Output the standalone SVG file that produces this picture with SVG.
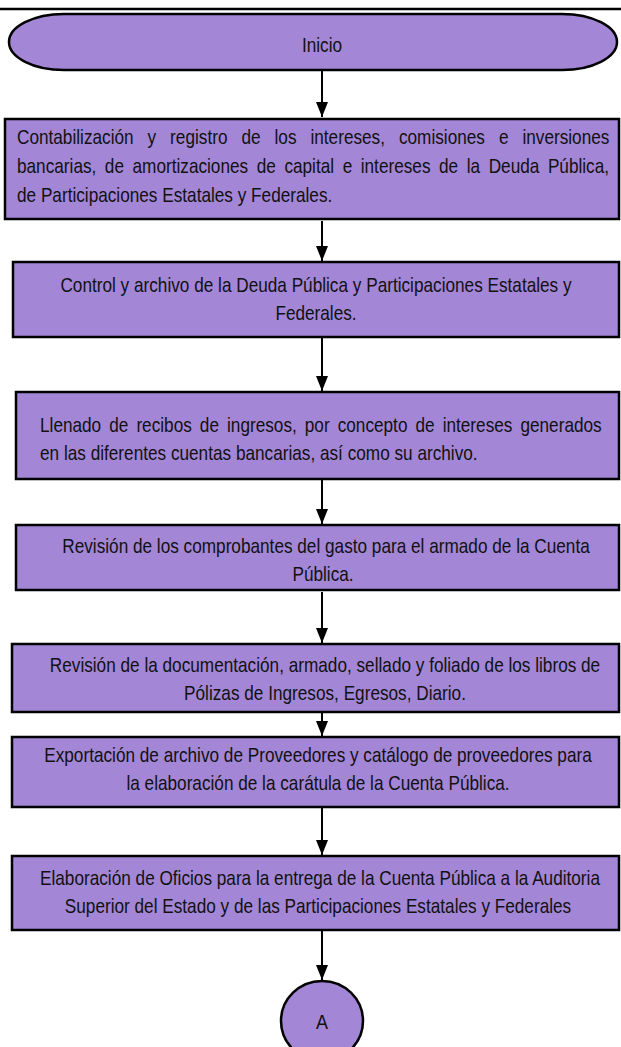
<svg xmlns="http://www.w3.org/2000/svg" width="621" height="1047" viewBox="0 0 621 1047">
<defs>
<marker id="ah" markerWidth="15" markerHeight="12" refX="15" refY="6" orient="auto" markerUnits="userSpaceOnUse" viewBox="0 0 15 12">
<path d="M0,0 L15,6 L0,12 Z" fill="#000"/>
</marker>
</defs>
<style>
.box{fill:#A386D6;stroke:#000;stroke-width:2.5}
.t{font-family:"Liberation Sans",Arial,sans-serif;font-size:20px;fill:#111}
.c{text-anchor:middle}
.conn line{stroke:#000;stroke-width:2;marker-end:url(#ah)}
</style>
<rect width="621" height="1047" fill="#fff"/>
<line x1="0" y1="9" x2="621" y2="9" stroke="#000" stroke-width="2.5"/>
<g id="inicio">
<rect class="box" x="9" y="14" width="608" height="56" rx="55" ry="28"/>
<text class="t c" transform="translate(322,52) scale(0.86,1)">Inicio</text>
</g>
<g id="n1">
<rect class="box" x="5" y="119" width="614" height="100"/>
<text class="t" transform="translate(17,144) scale(0.86,1)" word-spacing="10.7">Contabilización y registro de los intereses, comisiones e inversiones</text>
<text class="t" transform="translate(17,173) scale(0.86,1)" word-spacing="4.4">bancarias, de amortizaciones de capital e intereses de la Deuda Pública,</text>
<text class="t" transform="translate(17,202) scale(0.86,1)">de Participaciones Estatales y Federales.</text>
</g>
<g id="n2">
<rect class="box" x="13" y="262" width="606" height="75"/>
<text class="t c" transform="translate(316,292) scale(0.86,1)">Control y archivo de la Deuda Pública y Participaciones Estatales y</text>
<text class="t c" transform="translate(316,320) scale(0.86,1)">Federales.</text>
</g>
<g id="n3">
<rect class="box" x="16" y="392" width="603" height="87"/>
<text class="t" transform="translate(40,432) scale(0.86,1)" word-spacing="3.8">Llenado de recibos de ingresos, por concepto de intereses generados</text>
<text class="t" transform="translate(40,460) scale(0.86,1)">en las diferentes cuentas bancarias, así como su archivo.</text>
</g>
<g id="n4">
<rect class="box" x="16" y="525" width="603" height="65"/>
<text class="t c" transform="translate(326,553) scale(0.86,1)">Revisión de los comprobantes del gasto para el armado de la Cuenta</text>
<text class="t c" transform="translate(323,581) scale(0.86,1)">Pública.</text>
</g>
<g id="n5">
<rect class="box" x="12" y="644" width="607" height="68"/>
<text class="t c" transform="translate(325,672) scale(0.86,1)">Revisión de la documentación, armado, sellado y foliado de los libros de</text>
<text class="t c" transform="translate(325,700) scale(0.86,1)">Pólizas de Ingresos, Egresos, Diario.</text>
</g>
<g id="n6">
<rect class="box" x="12" y="737" width="607" height="70"/>
<text class="t c" transform="translate(318,762) scale(0.86,1)">Exportación de archivo de Proveedores y catálogo de proveedores para</text>
<text class="t c" transform="translate(318,790) scale(0.86,1)">la elaboración de la carátula de la Cuenta Pública.</text>
</g>
<g id="n7">
<rect class="box" x="12" y="856" width="607" height="74"/>
<text class="t c" transform="translate(320,885) scale(0.86,1)">Elaboración de Oficios para la entrega de la Cuenta Pública a la Auditoria</text>
<text class="t c" transform="translate(318,913) scale(0.86,1)">Superior del Estado y de las Participaciones Estatales y Federales</text>
</g>
<g id="a">
<ellipse class="box" cx="322" cy="1021" rx="41" ry="40"/>
<text class="t c" transform="translate(322,1029) scale(0.9,1)" font-size="23">A</text>
</g>
<g class="conn" id="connectors">
<line x1="322" y1="70" x2="322" y2="117"/>
<line x1="322" y1="221" x2="322" y2="261"/>
<line x1="322" y1="338" x2="322" y2="391"/>
<line x1="322" y1="480" x2="322" y2="524"/>
<line x1="322" y1="592" x2="322" y2="643"/>
<line x1="322" y1="713" x2="322" y2="736"/>
<line x1="322" y1="808" x2="322" y2="855"/>
<line x1="322" y1="931" x2="322" y2="980"/>
</g>
</svg>
